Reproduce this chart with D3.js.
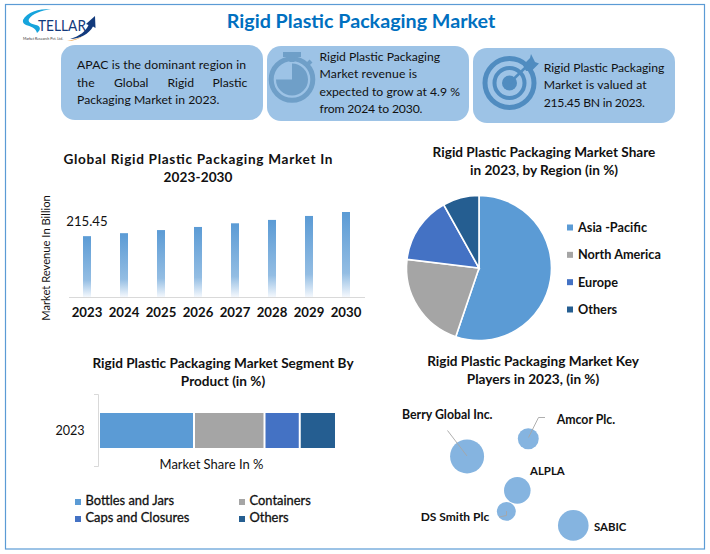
<!DOCTYPE html>
<html>
<head>
<meta charset="utf-8">
<script src="https://cdnjs.cloudflare.com/ajax/libs/d3/7.8.5/d3.min.js"></script>
<style>
html,body{margin:0;padding:0;background:#fff;overflow:hidden}
svg{display:block}
text{font-family:Lato,"Open Sans",sans-serif;fill:#111}
</style>
</head>
<body>
<svg id="c" width="710" height="554"></svg>
<script>
const years = ["2023","2024","2025","2026","2027","2028","2029","2030"];
const revenue = [215.45,226,237,248,261,273,287,301];
const regionNames = ["Asia -Pacific","North America","Europe","Others"];
const regionShares = [55.2,21.7,15,8.1];
const regionColors = ["#5b9bd5","#a5a5a5","#4472c4","#255e91"];
const productNames = ["Bottles and Jars","Containers","Caps and Closures","Others"];
const productShares = [40,30,15,15];
const playerNames = ["Berry Global Inc.","Amcor Plc.","ALPLA","DS Smith Plc","SABIC"];
const playerX = [2.06,5.46,4.85,4.24,7.96];
const playerY = [6.33,7.59,3.9,2.4,1.4];
const playerSize = [29,11,17.7,9,23.5];

const svg = d3.select("#c");
const defs = svg.append("defs");

function label(x,y,str,size,opt={}){
  const t = svg.append("text").attr("x",x).attr("y",y).text(str)
    .attr("font-size",size)
    .attr("text-anchor",opt.anchor||"start")
    .attr("font-weight",opt.bold?700:400)
    .style("fill",opt.fill||"#111");
  if(opt.len) t.attr("textLength",opt.len).attr("lengthAdjust","spacing");
  return t;
}

// frame
svg.append("rect").attr("x",5.5).attr("y",4.5).attr("width",699).attr("height",544.5)
  .attr("fill","#fff").attr("stroke","#5b9bd5").attr("stroke-width",1.2);

// title
label(361,28,"Rigid Plastic Packaging Market",19.7,{anchor:"middle",bold:true,fill:"#0070c0"});

// logo
const logo = svg.append("g");
logo.append("path").attr("d","M23 20 C27 12 38 9 51 9 C41 10.5 32 14 29 19 C27.5 22 31 24 36 25 C41 26 41 30 37 33 C36 28 30 26 26 25 C23.5 24 22.5 22 23 20Z").attr("fill","#16a4dc");
logo.append("text").attr("x",38).attr("y",31).text("TELLAR").attr("font-size",15.5).attr("textLength",48).attr("lengthAdjust","spacingAndGlyphs").style("fill","#123a7c");
logo.append("path").attr("d","M70 39 C80 36 86 31 88.5 25 L86 24 L95 16 L95.5 28 L93 26.5 C89 34 80 39 70 39Z").attr("fill","#123a7c");
logo.append("path").attr("d","M67 41 C74 40 79 38 83 36 C79 39 73 41 67 41Z").attr("fill","#f0a040");
logo.append("text").attr("x",23).attr("y",40).text("Market Research Pvt. Ltd.").attr("font-size",4).attr("textLength",40).attr("lengthAdjust","spacingAndGlyphs").style("fill","#333");

// info boxes
const boxFill="#9dc3e6";
[[61,45],[267,46],[473,48]].forEach(([x,y])=>{
  svg.append("rect").attr("x",x).attr("y",y).attr("width",202).attr("height",75)
    .attr("rx",14).attr("fill",boxFill);
});
const textSize=12.2;
label(77,69,"APAC is the dominant region in",textSize,{len:169});
{
  const words=["the","Global","Rigid","Plastic"], xs=[77,114,167.5,212.5];
  words.forEach((w,i)=>label(xs[i],87,w,textSize));
}
label(77,104,"Packaging Market in 2023.",textSize,{len:142.5});
[["Rigid Plastic Packaging",120.5],["Market revenue is",97.5],["expected to grow at 4.9 %",140.5],["from 2024 to 2030.",103]].forEach(([t,w],i)=>
  label(319.5,60.5+i*17.5,t,textSize,{len:w}));
[["Rigid Plastic Packaging",120.6],["Market is valued at",103],["215.45 BN in 2023.",101.3]].forEach(([t,w],i)=>
  label(543.7,72+i*17.4,t,textSize,{len:w}));

// stopwatch icon
const iconC="#6f9fc8";
const sw=svg.append("g");
sw.append("circle").attr("cx",292).attr("cy",79.5).attr("r",20.8).attr("fill","none").attr("stroke",iconC).attr("stroke-width",5);
sw.append("path").attr("d",d3.arc().innerRadius(0).outerRadius(16).startAngle(0).endAngle(1.5*Math.PI)()).attr("transform","translate(292,79.5)").attr("fill",iconC);
sw.append("rect").attr("x",283).attr("y",52).attr("width",18).attr("height",5).attr("fill",iconC);
sw.append("rect").attr("x",289.5).attr("y",56).attr("width",5).attr("height",6).attr("fill",iconC);
sw.append("line").attr("x1",307).attr("y1",65).attr("x2",311).attr("y2",61).attr("stroke",iconC).attr("stroke-width",4);

// target icon
const tC="#508cc0";
const tg=svg.append("g");
tg.append("circle").attr("cx",509.5).attr("cy",83).attr("r",24.5).attr("fill","none").attr("stroke",tC).attr("stroke-width",5);
tg.append("circle").attr("cx",509.5).attr("cy",83).attr("r",15).attr("fill","none").attr("stroke",tC).attr("stroke-width",4);
tg.append("circle").attr("cx",509.5).attr("cy",83).attr("r",7.5).attr("fill",tC);
tg.append("line").attr("x1",509.5).attr("y1",83).attr("x2",527).attr("y2",66).attr("stroke",tC).attr("stroke-width",2.5);
tg.append("path").attr("d","M523 65 L530 58 L531 54 L535 62 L539 63.5 L532 70.5 L526 71Z").attr("fill",tC);

// --- bar chart
label(198,164,"Global Rigid Plastic Packaging Market In",13.6,{anchor:"middle",bold:true,len:269});
label(198,182,"2023-2030",13.6,{anchor:"middle",bold:true,len:69});
const grad=defs.append("linearGradient").attr("id","barGrad").attr("x1",0).attr("y1",0).attr("x2",0).attr("y2",1);
[[0,"#5b9bd5"],[0.72,"#93bde3"],[1,"#f4f8fd"]].forEach(([o,c])=>grad.append("stop").attr("offset",o).attr("stop-color",c));
const xBar=d3.scaleBand().domain(years).range([68.5,364.5]).paddingInner(0).paddingOuter(0);
const yBar=d3.scaleLinear().domain([0,301]).range([297,212]);
svg.selectAll("rect.bar").data(years).enter().append("rect").attr("class","bar")
  .attr("x",d=>xBar(d)+xBar.bandwidth()/2-4).attr("width",8)
  .attr("y",(d,i)=>yBar(revenue[i])).attr("height",(d,i)=>yBar(0)-yBar(revenue[i]))
  .attr("fill","url(#barGrad)");
const axB=svg.append("g").attr("transform","translate(0,297)").call(d3.axisBottom(xBar).tickSize(0).tickPadding(11));
axB.select(".domain").attr("stroke","#d9d9d9").attr("stroke-width",1);
axB.selectAll("text").attr("font-size",13.2).attr("font-weight",700).style("fill","#111").style("font-family","Lato");
label(87,226,"215.45",13.2,{anchor:"middle"});
label(0,0,"Market Revenue In Billion",11.2,{anchor:"middle"}).attr("transform","translate(49.5,258) rotate(-90)");

// --- pie
label(544,157,"Rigid Plastic Packaging Market Share",13.6,{anchor:"middle",bold:true});
label(544,175,"in 2023, by Region (in %)",13.6,{anchor:"middle",bold:true});
const pie=d3.pie().sort(null).startAngle(0).endAngle(2*Math.PI)(regionShares);
const arc=d3.arc().innerRadius(0).outerRadius(72.5);
svg.append("g").attr("transform","translate(479,268)").selectAll("path").data(pie).enter().append("path")
  .attr("d",arc).attr("fill",(d,i)=>regionColors[i]).attr("stroke","#fff").attr("stroke-width",1.6);
const legY=d3.scalePoint().domain(regionNames).range([228,310]);
regionNames.forEach((n,i)=>{
  svg.append("rect").attr("x",567).attr("y",legY(n)-3.5).attr("width",6).attr("height",6).attr("fill",regionColors[i]);
  label(578,legY(n)+4,n,12.7,{bold:true});
});

// --- stacked bar
label(223,368,"Rigid Plastic Packaging Market Segment By",13.6,{anchor:"middle",bold:true});
label(223,386,"Product (in %)",13.6,{anchor:"middle",bold:true});
const xSt=d3.scaleLinear().domain([0,100]).range([100,335]);
let acc=0;
productShares.forEach((v,i)=>{
  svg.append("rect").attr("x",xSt(acc)+(i?1:0)).attr("y",413)
    .attr("width",xSt(acc+v)-xSt(acc)-(i===0||i===3?1:2)).attr("height",35).attr("fill",regionColors[i]);
  acc+=v;
});
svg.append("path").attr("d","M94 394.5H98.5V466.5H94").attr("fill","none").attr("stroke","#d9d9d9").attr("stroke-width",1);
label(70,435,"2023",12.6,{anchor:"middle"});
label(211.5,469,"Market Share In %",13,{anchor:"middle"});
[[75,505],[239,505],[75,522],[239,522]].forEach(([x,y],i)=>{
  svg.append("rect").attr("x",x).attr("y",y-6).attr("width",6).attr("height",6).attr("fill",regionColors[i]);
  label(x+10.5,y,productNames[i],12.9).style("stroke","#111").style("stroke-width",0.3);
});

// --- bubbles
label(533,366,"Rigid Plastic Packaging Market Key",13.6,{anchor:"middle",bold:true});
label(533,384,"Players in 2023, (in %)",13.6,{anchor:"middle",bold:true});
const xB=d3.scaleLinear().domain([0,10]).range([430,610]);
const yB=d3.scaleLinear().domain([0,10]).range([545,405]);
const rB=d3.scaleSqrt().domain([0,29]).range([0,17]);
svg.selectAll("circle.bub").data(playerNames).enter().append("circle").attr("class","bub")
  .attr("cx",(d,i)=>xB(playerX[i])).attr("cy",(d,i)=>yB(playerY[i])).attr("r",(d,i)=>rB(playerSize[i]))
  .attr("fill","#85b4e0");
const leader=(pts)=>svg.append("path").attr("d",d3.line()(pts)).attr("fill","none").attr("stroke","#a6a6a6").attr("stroke-width",0.9);
leader([[447.5,430.5],[467,456]]);
leader([[545,417.5],[538.5,417.5],[528.5,437.5]]);
leader([[499,517],[506.5,515.5],[506.5,511]]);
const lab=[[402,419],[556.7,423.5],[530,475],[420.7,521],[594,531]];
const labSize=[12.3,12.3,11.4,12,11.4];
playerNames.forEach((n,i)=>label(lab[i][0],lab[i][1],n,labSize[i],{bold:true}));
</script>
</body>
</html>
